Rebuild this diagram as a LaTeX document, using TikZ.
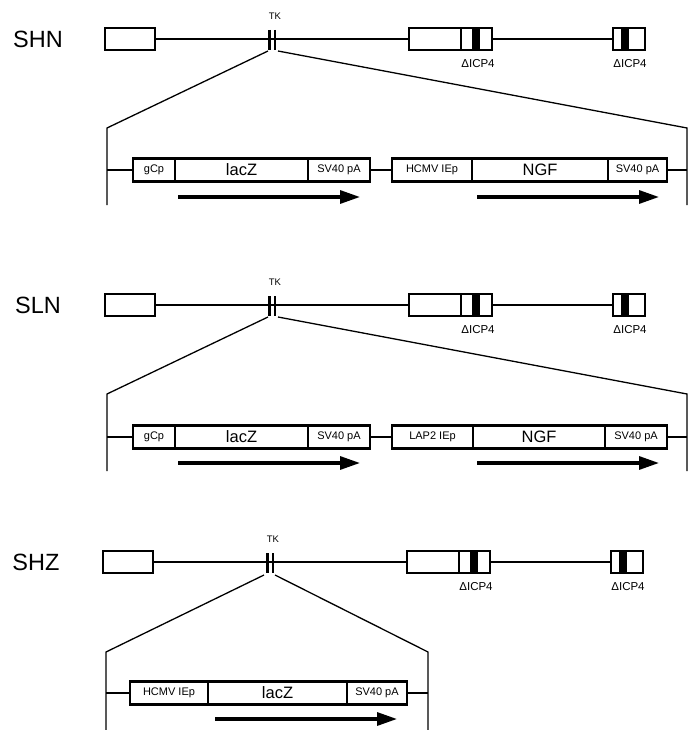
\documentclass[tikz,border=0pt]{standalone}
\usepackage{fontspec}
\setmainfont{Liberation Sans}
\usetikzlibrary{arrows.meta}
\begin{document}
\begin{tikzpicture}[x=1pt,y=-1pt,
  gline/.style={line width=2.9pt},
  gbox/.style={draw,line width=2.9pt,fill=white,inner sep=0pt,outer sep=0pt,anchor=north west,minimum height=22pt},
  ibox/.style={draw,line width=2.9pt,fill=white,inner sep=0pt,outer sep=0pt,anchor=west,minimum height=23pt},
  thin/.style={line width=1.3pt},
  dir/.style={line width=3.2pt,-{Triangle[length=20pt,width=13pt]}},
  pname/.style={font=\fontsize{23.5}{26}\selectfont},
  small/.style={font=\fontsize{11}{12}\selectfont},
  tkf/.style={font=\fontsize{9.5}{10}\selectfont},
  dlab/.style={font=\fontsize{11.5}{12}\selectfont},
  gene/.style={font=\fontsize{16.5}{18}\selectfont},
]
\useasboundingbox (0,0) rectangle (695,730);

% ---------- genome lines ----------
\foreach \i/\nm/\yg/\dx in {1/SHN/39/0, 2/SLN/305/0, 3/SHZ/562/-2} {
  \node[pname] (lab\i) at (38+\dx,\yg) {\nm};
  \node[gbox, minimum width=50pt] (a\i) at (105+\dx,\yg-11) {};
  \node[gbox, minimum width=83pt] (b\i) at (409+\dx,\yg-11) {};
  \node[gbox, minimum width=32pt] (c\i) at (613+\dx,\yg-11) {};
  \fill (472+\dx,\yg-11) rectangle (480+\dx,\yg+11);
  \draw[line width=2.9pt] (461+\dx,\yg-11) -- (461+\dx,\yg+11);
  \fill (621+\dx,\yg-11) rectangle (629+\dx,\yg+11);
  \draw[gline] (a\i.east) -- (b\i.west);
  \draw[gline] (b\i.east) -- (c\i.west);
  \draw[line width=2.2pt] (269.5+\dx,\yg-9) -- (269.5+\dx,\yg+11);
  \draw[line width=2.2pt] (275+\dx,\yg-9) -- (275+\dx,\yg+11);
  \node[tkf] (tk\i) at (275+\dx,\yg-23) {TK};
  \node[dlab] (dA\i) at (478+\dx,\yg+25) {ΔICP4};
  \node[dlab] (dB\i) at (630+\dx,\yg+25) {ΔICP4};
}

% ---------- panel 1 insert ----------
\coordinate (p1tl) at (268,51);
\coordinate (p1tr) at (278,51);
\coordinate (p1l) at (107,128);
\coordinate (p1r) at (687,128);
\coordinate (p1lb) at (107,205);
\coordinate (p1rb) at (687,205);
\draw[thin] (p1tl) -- (p1l) -- (p1lb);
\draw[thin] (p1tr) -- (p1r) -- (p1rb);
\node[ibox,minimum width=42pt,small] (p1g) at (133,170) {gCp};
\node[ibox,minimum width=133pt,gene] (p1z) at (175,170) {lacZ};
\node[ibox,minimum width=62pt,small] (p1s) at (308,170) {SV40 pA};
\node[ibox,minimum width=80pt,small] (p1h) at (392,170) {HCMV IEp};
\node[ibox,minimum width=136pt,gene] (p1n) at (472,170) {NGF};
\node[ibox,minimum width=59pt,small] (p1t) at (608,170) {SV40 pA};
\draw[gline] (p1l |- p1g.west) -- (p1g.west);
\draw[gline] (p1s.east) -- (p1h.west);
\draw[gline] (p1t.east) -- (p1r |- p1t.east);
\coordinate (p1a1) at (178,197);
\coordinate (p1a2) at (360,197);
\coordinate (p1a3) at (477,197);
\coordinate (p1a4) at (659,197);
\draw[dir] (p1a1) -- (p1a2);
\draw[dir] (p1a3) -- (p1a4);

% ---------- panel 2 insert ----------
\coordinate (p2tl) at (268,317);
\coordinate (p2tr) at (278,317);
\coordinate (p2l) at (107,394);
\coordinate (p2r) at (687,394);
\coordinate (p2lb) at (107,471);
\coordinate (p2rb) at (687,471);
\draw[thin] (p2tl) -- (p2l) -- (p2lb);
\draw[thin] (p2tr) -- (p2r) -- (p2rb);
\node[ibox,minimum width=42pt,small] (p2g) at (133,437) {gCp};
\node[ibox,minimum width=133pt,gene] (p2z) at (175,437) {lacZ};
\node[ibox,minimum width=62pt,small] (p2s) at (308,437) {SV40 pA};
\node[ibox,minimum width=81pt,small] (p2h) at (392,437) {LAP2 IEp};
\node[ibox,minimum width=132pt,gene] (p2n) at (473,437) {NGF};
\node[ibox,minimum width=62pt,small] (p2t) at (605,437) {SV40 pA};
\draw[gline] (p2l |- p2g.west) -- (p2g.west);
\draw[gline] (p2s.east) -- (p2h.west);
\draw[gline] (p2t.east) -- (p2r |- p2t.east);
\coordinate (p2a1) at (178,463);
\coordinate (p2a2) at (360,463);
\coordinate (p2a3) at (477,463);
\coordinate (p2a4) at (659,463);
\draw[dir] (p2a1) -- (p2a2);
\draw[dir] (p2a3) -- (p2a4);

% ---------- panel 3 insert ----------
\coordinate (p3tl) at (264,575);
\coordinate (p3tr) at (275,575);
\coordinate (p3l) at (106,652);
\coordinate (p3r) at (428,652);
\coordinate (p3lb) at (106,730);
\coordinate (p3rb) at (428,730);
\draw[thin] (p3tl) -- (p3l) -- (p3lb);
\draw[thin] (p3tr) -- (p3r) -- (p3rb);
\node[ibox,minimum width=78pt,small] (p3h) at (130,693) {HCMV IEp};
\node[ibox,minimum width=139pt,gene] (p3z) at (208,693) {lacZ};
\node[ibox,minimum width=60pt,small] (p3s) at (347,693) {SV40 pA};
\draw[gline] (p3l |- p3h.west) -- (p3h.west);
\draw[gline] (p3s.east) -- (p3r |- p3s.east);
\coordinate (p3a1) at (215,719);
\coordinate (p3a2) at (397,719);
\draw[dir] (p3a1) -- (p3a2);
\end{tikzpicture}
\end{document}
